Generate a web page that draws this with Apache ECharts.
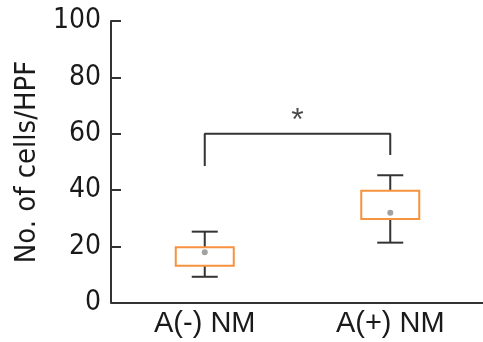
<!DOCTYPE html>
<html>
<head>
<meta charset="utf-8">
<script src="https://cdn.jsdelivr.net/npm/echarts@6/dist/echarts.min.js"></script>
<style>
  html, body { margin: 0; padding: 0; background: #fff; }
  #chart { width: 483px; height: 342px; }
</style>
</head>
<body>
<div id="chart"></div>
<script>
// Données
const categories = ['A(-) NM', 'A(+) NM'];
const whiskerLow = [9.3, 21.4];
const q1 = [13.2, 29.8];
const q3 = [19.8, 39.8];
const whiskerHigh = [25.3, 45.3];
const means = [18, 32];
const yTicks = [0, 20, 40, 60, 80, 100];

// Crochet de significativité : [x, y] sur l'axe secondaire
const bracket = [[0, 48.6], [0, 60], [1, 60], [1, 52.5]];
const star = [[0.5, 64.5]];

const dark = '#333333';
const textColor = '#1a1a1a';
const orange = '#F7923E';
const condensed = 'DejaVu Sans Condensed';

const chart = echarts.init(document.getElementById('chart'));

const boxData = categories.map((c, i) => [i, whiskerLow[i], q1[i], q3[i], whiskerHigh[i]]);

// Dessine moustaches sombres + boîte orange
function renderBox(params, api) {
    const x = api.value(0);
    const pLow = api.coord([x, api.value(1)]);
    const pQ1 = api.coord([x, api.value(2)]);
    const pQ3 = api.coord([x, api.value(3)]);
    const pHigh = api.coord([x, api.value(4)]);
    const capHalf = 13;
    const boxHalf = 29;
    const line = { stroke: dark, lineWidth: 2 };
    return {
        type: 'group',
        children: [
            { type: 'line', shape: { x1: pHigh[0], y1: pHigh[1], x2: pQ3[0], y2: pQ3[1] }, style: line },
            { type: 'line', shape: { x1: pLow[0], y1: pLow[1], x2: pQ1[0], y2: pQ1[1] }, style: line },
            { type: 'line', shape: { x1: pHigh[0] - capHalf, y1: pHigh[1], x2: pHigh[0] + capHalf, y2: pHigh[1] }, style: line },
            { type: 'line', shape: { x1: pLow[0] - capHalf, y1: pLow[1], x2: pLow[0] + capHalf, y2: pLow[1] }, style: line },
            {
                type: 'rect',
                shape: { x: pQ3[0] - boxHalf, y: pQ3[1], width: boxHalf * 2, height: pQ1[1] - pQ3[1] },
                style: { fill: '#fff', stroke: orange, lineWidth: 2 }
            }
        ]
    };
}

chart.setOption({
    animation: false,
    grid: { left: 112, right: -4, top: 21, bottom: 39 },
    xAxis: [
        {
            type: 'category',
            data: categories,
            axisLine: { lineStyle: { color: dark, width: 2 } },
            axisTick: { show: false },
            axisLabel: {
                color: textColor,
                fontFamily: 'Liberation Sans',
                fontSize: 29,
                margin: 6
            }
        },
        {
            type: 'value',
            min: -0.5,
            max: 1.5,
            show: false
        }
    ],
    yAxis: {
        type: 'value',
        min: yTicks[0],
        max: yTicks[yTicks.length - 1],
        interval: 20,
        offset: 1,
        name: 'No. of cells/HPF',
        nameLocation: 'middle',
        nameGap: 68,
        nameTextStyle: {
            color: textColor,
            fontFamily: condensed,
            fontSize: 29
        },
        splitLine: { show: false },
        axisLine: { show: true, onZero: false, lineStyle: { color: dark, width: 2 } },
        axisTick: { show: true, inside: true, length: 10, lineStyle: { color: dark, width: 2 } },
        axisLabel: {
            color: textColor,
            fontFamily: condensed,
            fontSize: 28,
            margin: 10
        }
    },
    series: [
        {
            type: 'custom',
            data: boxData,
            renderItem: renderBox,
            encode: { x: 0, y: [1, 2, 3, 4] }
        },
        {
            type: 'scatter',
            data: means,
            symbolSize: 6,
            itemStyle: { color: '#8a8a8a' },
            z: 5
        },
        {
            type: 'line',
            xAxisIndex: 1,
            data: bracket,
            symbol: 'none',
            lineStyle: { color: dark, width: 2 }
        },
        {
            type: 'scatter',
            xAxisIndex: 1,
            data: star,
            symbolSize: 0,
            label: {
                show: true,
                position: 'inside',
                formatter: '*',
                color: textColor,
                fontFamily: 'Liberation Sans',
                fontSize: 32
            }
        }
    ]
});
</script>
</body>
</html>
